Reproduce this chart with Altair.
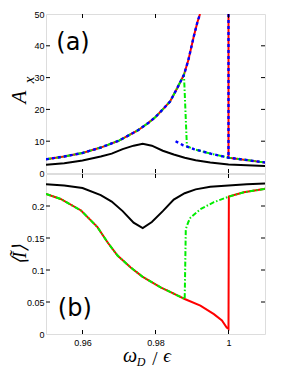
import altair as alt
import pandas as pd

# ---------------- data ----------------
# Panel (a): A_x versus omega_D/epsilon
a_up_x = [0.950, 0.955, 0.960, 0.965, 0.970, 0.975, 0.978, 0.980, 0.982, 0.984, 0.986, 0.9878, 0.989, 0.9905, 0.9915, 0.9922]
a_up_y = [4.3, 5.2, 6.3, 8.0, 10.2, 13.3, 15.7, 17.6, 20.0, 22.5, 26.8, 30.9, 35.5, 43.0, 47.5, 50.0]
a_low_x = [0.9855, 0.9876, 0.9905, 0.9951, 1.0001, 1.0042, 1.0087, 1.010]
a_low_y = [10.0, 8.7, 7.5, 6.1, 4.8, 4.2, 3.5, 3.3]
a_jump_x = [1.000, 1.000]
a_jump_y = [50.0, 4.8]
a_gdrop_x = [0.9878, 0.9886]
a_gdrop_y = [30.9, 8.4]

blk_x = [0.950, 0.955, 0.960, 0.965, 0.968, 0.971, 0.974, 0.9765, 0.979, 0.982, 0.985, 0.988, 0.991, 0.995, 1.000, 1.005, 1.010]
a_blk_y = [2.6, 3.1, 3.9, 5.2, 6.1, 7.5, 8.6, 9.2, 8.6, 7.0, 5.8, 4.8, 4.0, 3.3, 2.7, 2.4, 2.2]

# Panel (b): <I> versus omega_D/epsilon
b_low_x = [0.950, 0.954, 0.9596, 0.9641, 0.9669, 0.9696, 0.9732, 0.9764, 0.9814, 0.9850, 0.9880, 0.9923, 0.996, 0.9982, 0.9995, 1.000]
b_low_y = [0.219, 0.211, 0.193, 0.167, 0.143, 0.1225, 0.104, 0.0897, 0.073, 0.063, 0.0547, 0.0444, 0.031, 0.021, 0.010, 0.008]
b_up_x = [0.9883, 0.9890, 0.9896, 0.9923, 0.996, 1.0001, 1.0042, 1.0097, 1.010]
b_up_y = [0.164, 0.175, 0.182, 0.195, 0.206, 0.2147, 0.2214, 0.2266, 0.227]
b_blk_y = [0.234, 0.232, 0.228, 0.217, 0.207, 0.192, 0.174, 0.1655, 0.175, 0.192, 0.210, 0.220, 0.226, 0.230, 0.232, 0.234, 0.235]

x_ticks = [0.96, 0.98, 1.0]
a_ticks = [0, 10, 20, 30, 40, 50]
b_ticks = [0, 0.05, 0.1, 0.15, 0.2]
panel_labels = ["(a)", "(b)"]
a_label_pos = [0.9574, 41.0]
b_label_pos = [0.9579, 0.0386]
ya_title = ["A", "x"]
yb_title = ["\u27e8\u0128\u27e9"]
x_title = ["\u03c9", "D", "/", "\u03f5"]

# ---------------- building ----------------
W, H1, H2 = 219, 159, 160
LBL_FONT = "Liberation Sans"
MATH_FONT = "Liberation Serif"


def path(xs, ys, seg="s0", start=0):
    return [dict(x=x, y=y, seg=seg, i=start + k) for k, (x, y) in enumerate(zip(xs, ys))]


xscale = alt.Scale(domain=[0.95, 1.01], nice=False, zero=False)
ya = alt.Scale(domain=[0, 50], nice=False)
yb = alt.Scale(domain=[0, 0.25], nice=False)

ax_kw = dict(ticks=False, tickSize=0, domain=False, grid=False, labelFont=LBL_FONT,
             labelFontSize=9, labelColor="black")
xaxis_b = alt.Axis(values=x_ticks, format=".2~f", labelPadding=4, **ax_kw)
yaxis_a = alt.Axis(values=a_ticks, format="d", labelPadding=2, **ax_kw)
yaxis_b = alt.Axis(values=b_ticks, format=".2~f", labelPadding=2, **ax_kw)


def line_layer(rows, color, yscale, yaxis, xaxis, width=2.0, dash=None):
    kw = dict(color=color, strokeWidth=width, clip=True, strokeCap="butt")
    if dash:
        kw["strokeDash"] = dash
    return alt.Chart(pd.DataFrame(rows)).mark_line(**kw).encode(
        x=alt.X("x:Q", scale=xscale, axis=xaxis, title=None),
        y=alt.Y("y:Q", scale=yscale, axis=yaxis, title=None),
        detail="seg:N",
        order="i:Q",
    )


def tick_layers(yvals, yscale, yaxis, xaxis, H):
    dfy = pd.DataFrame({"y": yvals})
    dfx = pd.DataFrame({"x": x_ticks})
    yenc = alt.Y("y:Q", scale=yscale, axis=yaxis, title=None)
    xenc = alt.X("x:Q", scale=xscale, axis=xaxis, title=None)
    tk = dict(color="black", strokeWidth=1)
    return [
        alt.Chart(dfy).mark_rule(**tk).encode(y=yenc, x=alt.value(0), x2=alt.value(4)),
        alt.Chart(dfy).mark_rule(**tk).encode(y=yenc, x=alt.value(W - 4), x2=alt.value(W)),
        alt.Chart(dfx).mark_rule(**tk).encode(x=xenc, y=alt.value(H - 4), y2=alt.value(H)),
        alt.Chart(dfx).mark_rule(**tk).encode(x=xenc, y=alt.value(0), y2=alt.value(4)),
    ]


def text_at(txt, x, y, size, italic=True, angle=0, font=MATH_FONT, baseline="middle"):
    kw = dict(font=font, fontSize=size, color="black", align="center", baseline=baseline)
    if italic:
        kw["fontStyle"] = "italic"
    if angle:
        kw["angle"] = angle
    return alt.Chart(pd.DataFrame({"t": [txt]})).mark_text(**kw).encode(
        x=alt.value(x), y=alt.value(y), text="t:N")


# ----- panel (a)
lim = [k for k, v in enumerate(a_up_x) if v <= 0.9878]
red_a = path(a_up_x, a_up_y, "up") + path(a_jump_x + a_low_x[4:], a_jump_y + a_low_y[4:], "down")
blue_a = path(a_up_x, a_up_y, "up") + path(a_low_x, a_low_y, "low") + path(a_jump_x, a_jump_y, "jump")
green_a = path([a_up_x[k] for k in lim] + a_gdrop_x[1:] + a_low_x[2:],
               [a_up_y[k] for k in lim] + a_gdrop_y[1:] + a_low_y[2:])
black_a = path(blk_x, a_blk_y)

lbl_a = alt.Chart(pd.DataFrame({"t": [panel_labels[0]], "x": [a_label_pos[0]], "y": [a_label_pos[1]]})).mark_text(
    font="DejaVu Sans", fontSize=24, color="black", align="center", baseline="middle").encode(
    x=alt.X("x:Q", scale=xscale, axis=None), y=alt.Y("y:Q", scale=ya, axis=yaxis_a, title=None), text="t:N")

top = alt.layer(
    line_layer(black_a, "black", ya, yaxis_a, None),
    line_layer(red_a, "#ff0000", ya, yaxis_a, None),
    line_layer(green_a, "#00ee00", ya, yaxis_a, None, dash=[5, 2, 1.5, 2]),
    line_layer(blue_a, "#0000ff", ya, yaxis_a, None, width=2.4, dash=[3, 3]),
    *tick_layers(a_ticks[1:-1], ya, yaxis_a, None, H1),
    lbl_a,
    text_at(ya_title[0], -26, 83, 21, angle=270),
    text_at(ya_title[1], -17, 66, 15, angle=270),
).properties(width=W, height=H1)

# ----- panel (b)
red_b = path(b_low_x + b_up_x[5:], b_low_y + b_up_y[5:])
glim = [k for k, v in enumerate(b_low_x) if v <= 0.9880]
green_b = path([b_low_x[k] for k in glim] + b_up_x, [b_low_y[k] for k in glim] + b_up_y)
black_b = path(blk_x, b_blk_y)

lbl_b = alt.Chart(pd.DataFrame({"t": [panel_labels[1]], "x": [b_label_pos[0]], "y": [b_label_pos[1]]})).mark_text(
    font="DejaVu Sans", fontSize=24, color="black", align="center", baseline="middle").encode(
    x=alt.X("x:Q", scale=xscale, axis=xaxis_b, title=None), y=alt.Y("y:Q", scale=yb, axis=yaxis_b, title=None), text="t:N")

bottom = alt.layer(
    line_layer(black_b, "black", yb, yaxis_b, xaxis_b),
    line_layer(red_b, "#ff0000", yb, yaxis_b, xaxis_b),
    line_layer(green_b, "#00ee00", yb, yaxis_b, xaxis_b, dash=[5, 2, 1.5, 2]),
    *tick_layers(b_ticks[1:], yb, yaxis_b, xaxis_b, H2),
    lbl_b,
    text_at(yb_title[0], -26, 81, 19, angle=270),
    text_at(x_title[0], 84, 188, 20, baseline="alphabetic"),
    text_at(x_title[1], 95, 192, 12, baseline="alphabetic"),
    text_at(x_title[2], 109, 191, 19, italic=False, baseline="alphabetic"),
    text_at(x_title[3], 121, 188, 19, baseline="alphabetic"),
).properties(width=W, height=H2)

chart = alt.vconcat(top, bottom, spacing=1, bounds="flush").properties(
    padding={"left": 0, "top": 1, "right": 5, "bottom": 0}
).configure_view(stroke="black", strokeWidth=1.5).configure(background="white")

chart.save("out.html", embed_options={"renderer": "svg", "actions": False})
